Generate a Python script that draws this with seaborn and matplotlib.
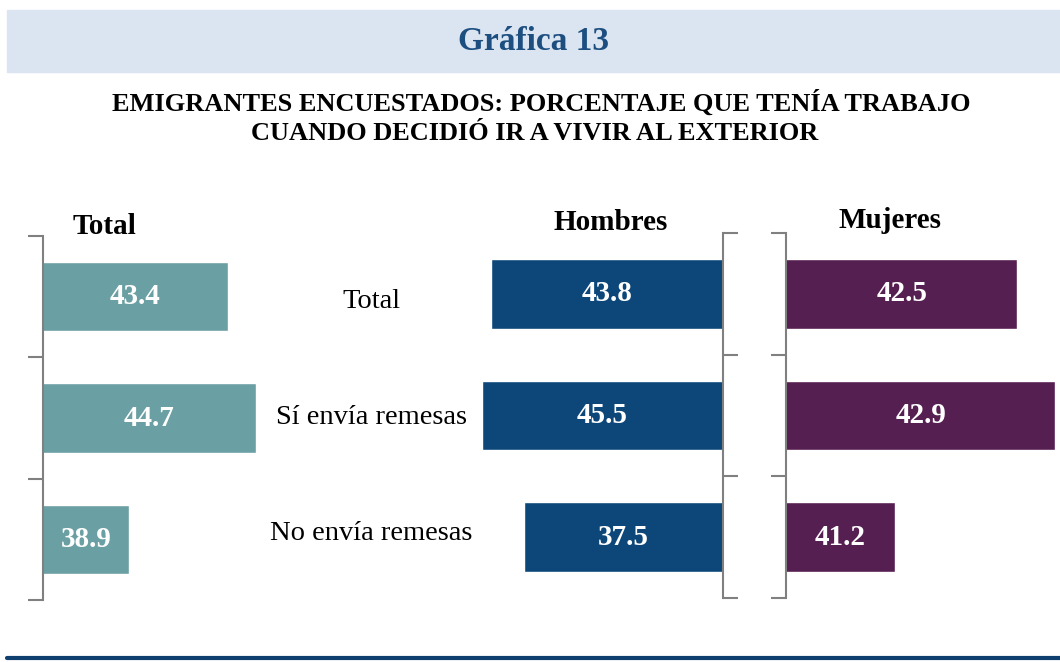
import seaborn as sns
import matplotlib.pyplot as plt
from matplotlib.patches import Rectangle
from matplotlib.lines import Line2D

# Datos
categorias = ["Total", "Sí envía remesas", "No envía remesas"]
total = [43.4, 44.7, 38.9]
hombres = [43.8, 45.5, 37.5]
mujeres = [42.5, 42.9, 41.2]

sns.set_theme(style="white")
plt.rcParams['font.family'] = ['Liberation Serif', 'DejaVu Serif']

W, H = 1060, 662
fig = plt.figure(figsize=(W / 100, H / 100), dpi=100)


def px_axes(x0, y0, x1, y1):
    # caja en píxeles (y desde arriba) -> ejes de la figura
    return fig.add_axes([x0 / W, 1 - y1 / H, (x1 - x0) / W, (y1 - y0) / H])


# Banda del encabezado y línea inferior
fig.patches.append(Rectangle((7 / W, 1 - 72 / H), 1 - 7 / W, 62 / H,
                             transform=fig.transFigure, color="#dbe5f1", zorder=0))
fig.lines.append(Line2D([7 / W, 1], [1 - 658 / H, 1 - 658 / H],
                        transform=fig.transFigure, color="#0e3f6e", lw=3))

fig.text(534 / W, 1 - 42 / H, "Gráfica 13", ha="center", va="center",
         fontsize=24, fontweight="bold", color="#1c4e80")
fig.text(541 / W, 1 - 103 / H, "EMIGRANTES ENCUESTADOS: PORCENTAJE QUE TENÍA TRABAJO",
         ha="center", va="center", fontsize=19, fontweight="bold", color="black")
fig.text(535 / W, 1 - 133 / H, "CUANDO DECIDIÓ IR A VIVIR AL EXTERIOR",
         ha="center", va="center", fontsize=19, fontweight="bold", color="black")

paneles = [
    ("Total", total, "#6a9fa3", (43, 236, 300, 600), (35, 46.7), "left", (104, 227)),
    ("Hombres", hombres, "#0d477a", (470, 233, 723, 598), (47.7, 0), "right", (611, 223)),
    ("Mujeres", mujeres, "#561f52", (786, 233, 1060, 598), (40.05, 42.95), "left", (890, 221)),
]

for nombre, valores, color, caja, xlim, lado, pos_tit in paneles:
    ax = px_axes(*caja)
    sns.barplot(x=valores, y=categorias, color=color, width=0.57,
                orient="h", ax=ax, saturation=1)
    ax.set_xlim(*xlim)
    ax.set_ylim(2.5, -0.5)
    for s in ["top", "bottom", "left", "right"]:
        ax.spines[s].set_visible(s == lado)
    ax.spines[lado].set_color("#808080")
    ax.spines[lado].set_linewidth(1.5)
    ax.set_xticks([])
    ax.set_yticks([-0.5, 0.5, 1.5, 2.5])
    ax.set_yticklabels([])
    if lado == "right":
        ax.yaxis.tick_right()
    ax.tick_params(axis="y", length=11, width=1.5, color="#808080",
                   left=(lado == "left"), right=(lado == "right"))
    ax.set_xlabel("")
    ax.set_ylabel("")
    ax.bar_label(ax.containers[0], fmt="%.1f", label_type="center",
                 color="white", fontsize=21, fontweight="bold")
    fig.text(pos_tit[0] / W, 1 - pos_tit[1] / H, nombre, ha="center", va="center",
             fontsize=21, fontweight="bold", color="black")

# Etiquetas de categoría al centro
for cat, y in zip(categorias, [302, 418, 533]):
    fig.text(371 / W, 1 - y / H, cat, ha="center", va="center",
             fontsize=20.5, color="black")

fig.savefig("out.png", dpi=100)
